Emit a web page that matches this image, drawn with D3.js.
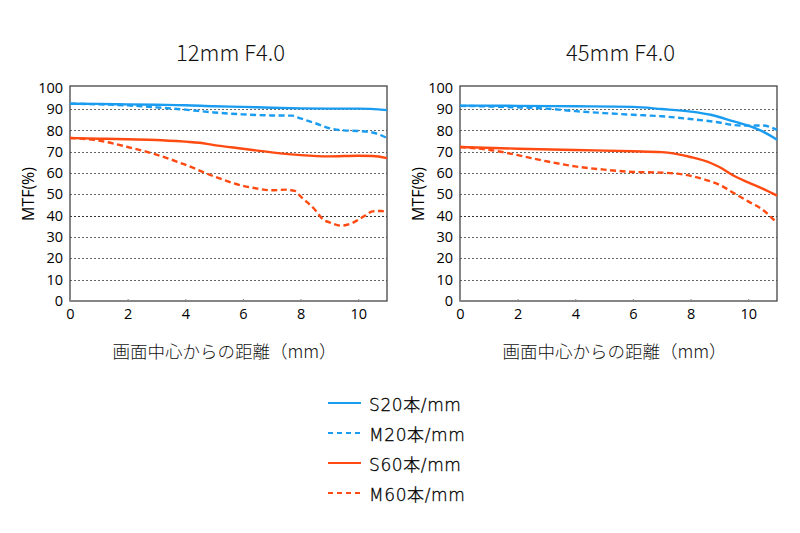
<!DOCTYPE html>
<html><head><meta charset="utf-8">
<script src="https://cdn.jsdelivr.net/npm/d3@7"></script>
<style>body{margin:0;background:#fff}</style>
</head><body>
<svg id="c" width="800" height="533"></svg>
<script>
const titles = ["12mm F4.0", "45mm F4.0"];
const xTicks = [0, 2, 4, 6, 8, 10];
const yTicks = [0, 10, 20, 30, 40, 50, 60, 70, 80, 90, 100];
const seriesNames = ["S20本/mm", "M20本/mm", "S60本/mm", "M60本/mm"];
const xLabel = "画面中心からの距離（mm）";
const yLabel = "MTF(%)";

// 12mm F4.0
const left_S20 = [[0,92.5],[1,92.4],[2,92.2],[3,92],[4,91.8],[5,91.3],[6,91],[7,90.6],[8,90.3],[9,90.2],[10,90.2],[11,89.5]];
const left_M20 = [[0,92.5],[1,92.2],[2,91.7],[3,90.8],[4,89.7],[5,88.4],[6,87.5],[7,87],[7.7,86.9],[8,85.6],[8.5,83.4],[9,81],[9.5,80],[10,79.7],[10.5,79],[11,76.4]];
const left_S60 = [[0,76.4],[1,76.1],[2,75.8],[3,75.5],[4,74.7],[4.5,74.2],[5,73.1],[6,71.4],[7,69.7],[8,68.4],[9,67.8],[10,68.1],[10.5,68],[11,67]];
const left_M60 = [[0,76.4],[1,75.2],[2,72.2],[3,68.6],[4,63.9],[5,58.4],[6,54],[6.5,52.7],[7,51.9],[7.5,52.2],[7.8,51.6],[8,49],[8.5,42.8],[8.8,38],[9,36.9],[9.4,35.3],[9.8,36.6],[10.2,39.7],[10.5,42],[10.8,42.2],[11,41.6]];
// 45mm F4.0
const right_S20 = [[0,91.6],[2,91.5],[4,91.3],[6,91],[7,90],[8,88.8],[8.7,87.3],[9.5,84.2],[10,82.2],[10.5,79.5],[11,75.6]];
const right_M20 = [[0,91.5],[1,91.2],[2,90.8],[3,90.2],[4,89],[5,88.1],[6,87.3],[7,86.6],[8,85.3],[9,83.7],[9.5,82.5],[10,82.2],[10.5,82.3],[11,80.2]];
const right_S60 = [[0,72.2],[2,71.4],[4,70.8],[6,70.2],[7,69.8],[8,67.5],[8.7,64.7],[9,62.8],[9.5,58.7],[10,55.6],[10.5,52.7],[11,49.4]];
const right_M60 = [[0,72.2],[1,70.9],[2,68.4],[3,65.5],[4,63.1],[5,61.6],[6,60.5],[7,60.2],[7.8,59.2],[8.5,56.9],[9,54.5],[9.5,50.6],[10,46.7],[10.5,42.8],[11,36.6]];

const panels = [
  {title: titles[0], series: [left_S20, left_M20, left_S60, left_M60], x0: 70, x1: 387},
  {title: titles[1], series: [right_S20, right_M20, right_S60, right_M60], x0: 460, x1: 777}
];
const colors = ["#1a9cf0", "#1a9cf0", "#ff4a12", "#ff4a12"];
const dashes = [null, "6,3.5", null, "6,3.5"];

const svg = d3.select("#c");
const tickFont = "'Open Sans', 'Liberation Sans', sans-serif";
const jpFont = "'Noto Sans CJK JP', sans-serif";
const thinFont = "'DejaVu Sans', 'Noto Sans CJK JP', sans-serif";

panels.forEach(p => {
  const x = d3.scaleLinear().domain([0, 11]).range([p.x0, p.x1]);
  const y = d3.scaleLinear().domain([0, 100]).range([301, 87.7]);
  const g = svg.append("g");

  g.selectAll("line.grid").data(yTicks.filter(v => v > 0 && v < 100)).enter()
    .append("line")
    .attr("x1", p.x0).attr("x2", p.x1)
    .attr("y1", d => Math.round(y(d)) + 0.5).attr("y2", d => Math.round(y(d)) + 0.5)
    .attr("stroke", d => d === 40 ? "#333" : "#666")
    .attr("stroke-width", d => d === 40 ? 1.2 : 1)
    .attr("stroke-dasharray", "2,2");

  g.append("rect").attr("x", p.x0).attr("y", 86).attr("width", p.x1 - p.x0).attr("height", 301 - 86)
    .attr("fill", "none").attr("stroke", "#444").attr("stroke-width", 1.3);

  const ya = d3.axisLeft(y).tickValues(yTicks).tickSize(0).tickPadding(7);
  const yg = g.append("g").attr("transform", `translate(${p.x0},0)`).call(ya);
  yg.select(".domain").remove();
  yg.selectAll("text").attr("font-family", tickFont).attr("font-size", 14.5).attr("font-weight", 500).attr("fill", "#000");

  const xa = d3.axisBottom(x).tickValues(xTicks).tickSize(2).tickPadding(6);
  const xg = g.append("g").attr("transform", `translate(0,301)`).call(xa);
  xg.select(".domain").remove();
  xg.selectAll("line").attr("stroke", "#888").attr("transform", "translate(0,-2)");
  xg.selectAll("text").attr("font-family", tickFont).attr("font-size", 14.5).attr("font-weight", 500).attr("fill", "#000");

  const line = d3.line().x(d => x(d[0])).y(d => y(d[1])).curve(d3.curveMonotoneX);
  p.series.forEach((s, i) => {
    g.append("path").datum(s).attr("d", line)
      .attr("fill", "none").attr("stroke", colors[i]).attr("stroke-width", 2.4)
      .attr("stroke-dasharray", dashes[i]);
  });

  g.append("text").attr("x", (p.x0 + p.x1) / 2 + 2).attr("y", 61).attr("text-anchor", "middle")
    .attr("font-family", jpFont).attr("font-weight", 300).attr("font-size", 22).attr("fill", "#111").text(p.title);

  g.append("text").attr("transform", `translate(${p.x0 - 36},${194}) rotate(-90)`)
    .attr("text-anchor", "middle").attr("font-family", tickFont).attr("font-size", 16).attr("fill", "#000").text(yLabel);

  g.append("text").attr("x", (p.x0 + p.x1) / 2 - 4).attr("y", 358).attr("text-anchor", "middle")
    .attr("font-family", jpFont).attr("font-weight", 300).attr("font-size", 17.5).attr("fill", "#111").text(xLabel);
});

const lg = svg.append("g");
seriesNames.forEach((n, i) => {
  const yy = 403 + i * 30;
  lg.append("line").attr("x1", 328).attr("x2", 361).attr("y1", yy).attr("y2", yy)
    .attr("stroke", colors[i]).attr("stroke-width", 2).attr("stroke-dasharray", dashes[i] ? "5,4" : null);
  lg.append("text").attr("x", 369).attr("y", yy + 8).attr("font-family", thinFont).attr("font-weight", 200).attr("font-size", 17)
    .attr("letter-spacing", 0.6).attr("fill", "#000").attr("stroke", "#000").attr("stroke-width", 0.3).text(n);
});
</script>
</body></html>
